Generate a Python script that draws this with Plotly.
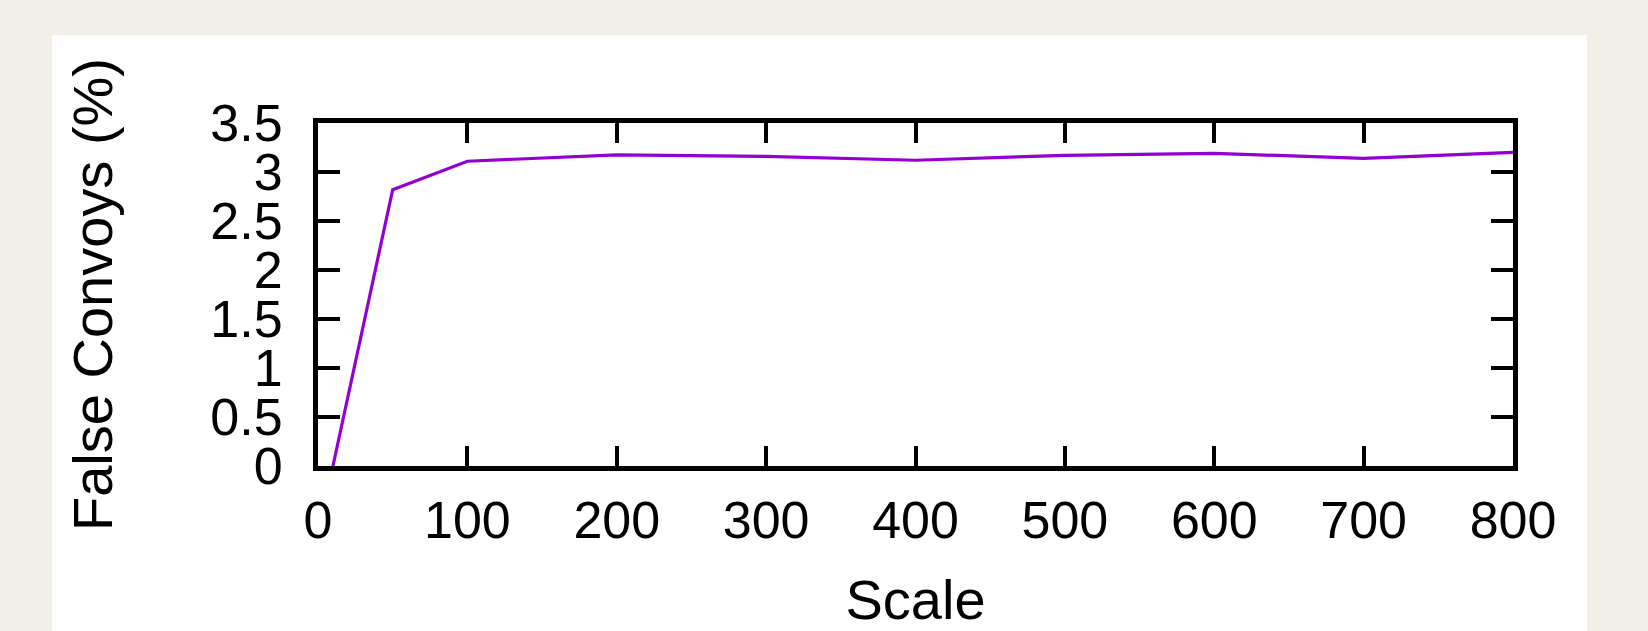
import plotly.graph_objects as go

# Data
scale = [10, 50, 100, 200, 300, 400, 500, 600, 700, 800]
false_convoys = [0.0, 2.82, 3.11, 3.175, 3.16, 3.12, 3.17, 3.19, 3.14, 3.20]
x_ticks = [0, 100, 200, 300, 400, 500, 600, 700, 800]
y_ticks = [0, 0.5, 1, 1.5, 2, 2.5, 3, 3.5]
y_tick_text = ["0", "0.5", "1", "1.5", "2", "2.5", "3", "3.5"]

W, H = 1648, 631
L, R, T, B = 318, 1513, 123, 466.5
pw, ph = R - L, B - T

fig = go.Figure()
fig.add_trace(go.Scatter(
    x=scale, y=false_convoys, mode="lines",
    line=dict(color="#9400D3", width=3.2),
    showlegend=False, hoverinfo="x+y",
))

font_family = "Liberation Sans, Arial, sans-serif"

fig.update_layout(
    width=W, height=H,
    margin=dict(l=L, r=W - R, t=T, b=H - B, autoexpand=False),
    paper_bgcolor="#f2efe9",
    plot_bgcolor="white",
    font=dict(family=font_family, color="black", size=52),
    shapes=[dict(
        type="rect", xref="paper", yref="paper", layer="below",
        x0=(52 - L) / pw, x1=(1587 - L) / pw,
        y0=(B - 640) / ph, y1=(B - 35) / ph,
        fillcolor="white", line=dict(width=0),
    )],
)

fig.update_xaxes(
    range=[0, 800], tickmode="array", tickvals=x_ticks,
    ticks="inside", ticklen=20, tickwidth=4, tickcolor="black",
    showline=True, linewidth=5, linecolor="black", mirror="allticks",
    showgrid=False, zeroline=False,
    tickfont=dict(size=52, family=font_family, color="black"),
    ticklabelstandoff=5,
    title=dict(text="Scale", font=dict(size=56, family=font_family, color="black"), standoff=41),
    automargin=False,
)
fig.update_yaxes(
    range=[0, 3.5], tickmode="array", tickvals=y_ticks, ticktext=y_tick_text,
    ticks="inside", ticklen=22, tickwidth=4, tickcolor="black",
    showline=True, linewidth=5, linecolor="black", mirror="allticks",
    showgrid=False, zeroline=False,
    tickfont=dict(size=52, family=font_family, color="black"),
    ticklabelstandoff=20,
    title=dict(text="False Convoys (%)", font=dict(size=56, family=font_family, color="black"), standoff=81),
    automargin=False,
)

fig.write_html(
    "out.html",
    config={"displayModeBar": False},
    post_script="document.body.style.margin='0';document.body.style.overflow='hidden';",
)
